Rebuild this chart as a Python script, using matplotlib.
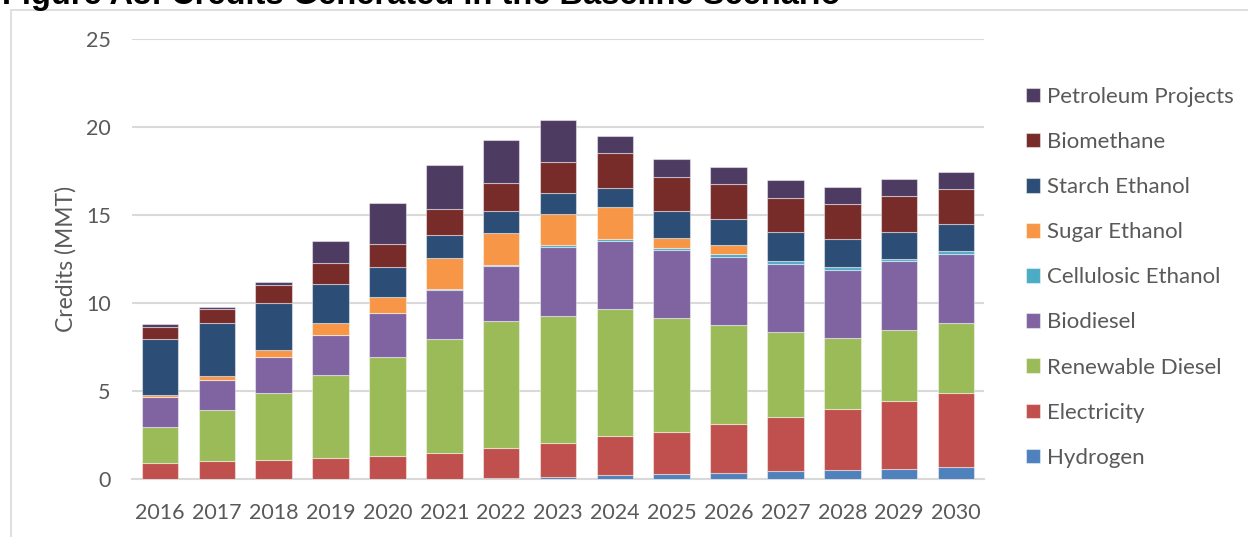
import numpy as np
import matplotlib.pyplot as plt
from matplotlib.patches import Rectangle

years = ['2016', '2017', '2018', '2019', '2020', '2021', '2022', '2023',
         '2024', '2025', '2026', '2027', '2028', '2029', '2030']

# credits by fuel type, MMT
hydrogen = [0, 0, 0, 0, 0, 0.03, 0.10, 0.15, 0.25, 0.28, 0.38, 0.45, 0.51, 0.61, 0.68]
electricity = [0.91, 1.02, 1.08, 1.19, 1.30, 1.48, 1.67, 1.93, 2.19, 2.43, 2.75, 3.11, 3.49, 3.82, 4.21]
renewable_diesel = [2.08, 2.89, 3.83, 4.75, 5.64, 6.45, 7.23, 7.22, 7.22, 6.44, 5.62, 4.83, 4.01, 4.04, 4.01]
biodiesel = [1.68, 1.72, 2.03, 2.28, 2.48, 2.78, 3.12, 3.91, 3.89, 3.88, 3.88, 3.86, 3.90, 3.90, 3.92]
cellulosic = [0, 0, 0, 0, 0, 0.04, 0.07, 0.08, 0.11, 0.13, 0.14, 0.16, 0.15, 0.15, 0.15]
sugar = [0.13, 0.21, 0.39, 0.68, 0.92, 1.79, 1.78, 1.79, 1.80, 0.55, 0.54, 0, 0, 0, 0]
starch = [3.19, 3.02, 2.67, 2.18, 1.72, 1.28, 1.24, 1.15, 1.06, 1.52, 1.46, 1.62, 1.58, 1.51, 1.50]
biomethane = [0.68, 0.80, 1.04, 1.19, 1.30, 1.52, 1.64, 1.78, 1.98, 1.95, 1.97, 1.95, 1.97, 2.03, 2.01]
petroleum = [0.14, 0.15, 0.15, 1.24, 2.31, 2.48, 2.42, 2.38, 1.00, 0.98, 1.01, 0.99, 1.00, 1.00, 0.98]

series = [
    ('Hydrogen', hydrogen, '#4f81bd'),
    ('Electricity', electricity, '#c0504d'),
    ('Renewable Diesel', renewable_diesel, '#9bbb59'),
    ('Biodiesel', biodiesel, '#8064a2'),
    ('Cellulosic Ethanol', cellulosic, '#4bacc6'),
    ('Sugar Ethanol', sugar, '#f79646'),
    ('Starch Ethanol', starch, '#2c4d75'),
    ('Biomethane', biomethane, '#772c2a'),
    ('Petroleum Projects', petroleum, '#4d3b62'),
]

plt.rcParams['font.family'] = ['Lato', 'DejaVu Sans']
grey = '#595959'

fig = plt.figure(figsize=(12.48, 5.37), dpi=100)
W, H = 1248, 537
ax = fig.add_axes([131.6 / W, 1 - 479.3 / H, (984.4 - 131.6) / W, (479.3 - 39) / H])

# outer frame of the figure box
fig.patches.append(Rectangle((11 / W, -0.1), 1.2, 1 - 10 / H + 0.1,
                             transform=fig.transFigure, fill=False,
                             edgecolor='#d9d9d9', linewidth=1.2))

fig.text(2 / W, 1 - 4 / H, 'Figure A8: Credits Generated in the Baseline Scenario',
         family='Liberation Sans', weight='bold', fontsize=23.5, va='baseline',
         ha='left', color='black')

x = np.arange(len(years))
bottom = np.zeros(len(years))
handles = []
for name, vals, col in series:
    vals = np.array(vals)
    b = ax.bar(x, vals, 0.645, bottom=bottom, color=col, label=name,
               edgecolor=(1, 1, 1, 0.45), linewidth=0.8, zorder=3)
    handles.append(b)
    bottom += vals

ax.set_xlim(-0.5, len(years) - 0.5)
ax.set_ylim(0, 25)
ax.set_yticks([0, 5, 10, 15, 20, 25])
ax.set_xticks(x)
ax.set_xticklabels(years)
ax.yaxis.grid(True, color='#d9d9d9', linewidth=1.5, zorder=0)
ax.set_axisbelow(True)
for s in ['top', 'right', 'left']:
    ax.spines[s].set_visible(False)
ax.spines['bottom'].set_color('#d9d9d9')
ax.spines['bottom'].set_linewidth(1.5)
ax.tick_params(axis='both', length=0, labelsize=15.5, labelcolor=grey)
ax.tick_params(axis='y', pad=15)
ax.tick_params(axis='x', pad=17)
ax.set_ylabel('Credits (MMT)', fontsize=16.5, color=grey, labelpad=7)

leg = fig.legend(handles[::-1], [s[0] for s in series][::-1],
                 loc='upper left', bbox_to_anchor=(1017 / W, 1 - 78 / H),
                 frameon=False, fontsize=16, handlelength=0.63,
                 handleheight=0.63, handletextpad=0.3, labelspacing=1.13,
                 borderaxespad=0)
for t in leg.get_texts():
    t.set_color(grey)

plt.savefig('out.png', dpi=100)
